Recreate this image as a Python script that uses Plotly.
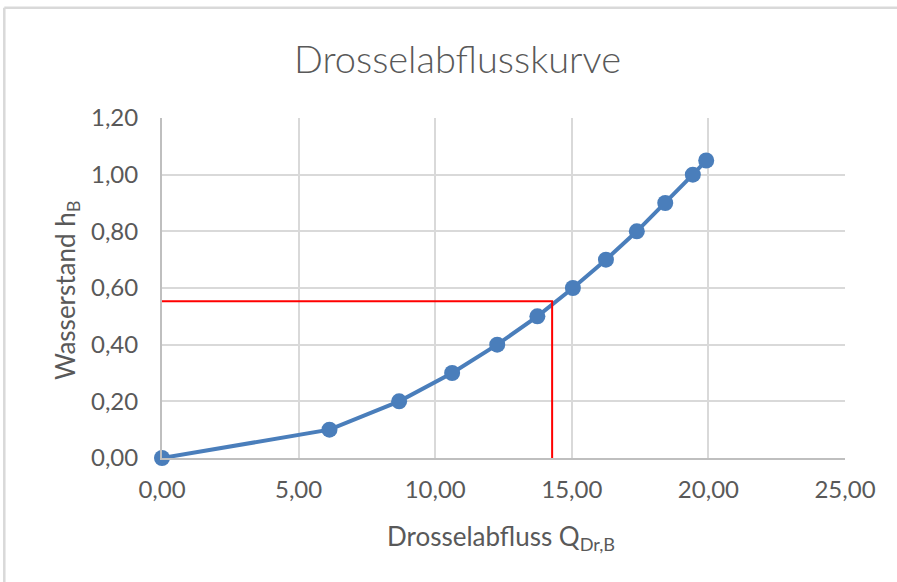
import plotly.graph_objects as go

# Data
abfluss_q = [0.0, 6.13, 8.68, 10.62, 12.27, 13.74, 15.04, 16.25, 17.38, 18.42, 19.43, 19.92]
wasserstand_h = [0.0, 0.10, 0.20, 0.30, 0.40, 0.50, 0.60, 0.70, 0.80, 0.90, 1.00, 1.05]
ablese_q = 14.28
ablese_h = 0.553

FONT = "Lato"
GREY = "#595959"

fig = go.Figure()
fig.add_trace(go.Scatter(
    x=abfluss_q, y=wasserstand_h, mode="lines+markers",
    line=dict(color="#4a7ebb", width=4),
    marker=dict(color="#4a7ebb", size=16),
    showlegend=False, cliponaxis=False,
))
fig.add_trace(go.Scatter(
    x=[0, ablese_q, ablese_q], y=[ablese_h, ablese_h, 0], mode="lines",
    line=dict(color="#ff0000", width=2), showlegend=False,
))

fig.update_layout(
    width=897, height=582,
    margin=dict(l=162, r=52, t=118, b=124),
    paper_bgcolor="white", plot_bgcolor="white",
    separators=",.",
    font=dict(family=FONT, color=GREY),
    xaxis=dict(range=[0, 25], dtick=5, tickformat=".2f", showgrid=True, gridcolor="#d9d9d9", gridwidth=2,
               zeroline=False, showline=True, linecolor="#bfbfbf", linewidth=2,
               ticks="", tickfont=dict(size=24, color=GREY), ticklabelstandoff=9),
    yaxis=dict(range=[0, 1.2], dtick=0.2, tickformat=".2f", showgrid=True, gridcolor="#d9d9d9", gridwidth=2,
               zeroline=False, showline=True, linecolor="#bfbfbf", linewidth=2,
               ticks="", tickfont=dict(size=24, color=GREY), ticklabelstandoff=17),
    annotations=[
        dict(text="Drosselabflusskurve", xref="paper", yref="paper", x=0.4324, y=1.1774,
             xanchor="center", yanchor="middle", showarrow=False,
             font=dict(size=38, color=GREY, family=FONT, weight=300)),
        dict(text="Drosselabfluss Q<sub>Dr,B</sub>", xref="paper", yref="paper", x=0.3269, y=-0.2344,
             xanchor="left", yanchor="middle", showarrow=False,
             font=dict(size=26, color=GREY, family=FONT)),
        dict(text="Wasserstand h<sub>B</sub>", xref="paper", yref="paper", x=-0.1401, y=0.2244,
             xanchor="center", yanchor="bottom", textangle=-90, showarrow=False,
             font=dict(size=26, color=GREY, family=FONT)),
    ],
    shapes=[
        dict(type="line", xref="paper", yref="paper", x0=-0.2309, x1=1.2, y0=1.3244, y1=1.3244,
             line=dict(color="#d9d9d9", width=2.5)),
        dict(type="line", xref="paper", yref="paper", x0=-0.2309, x1=-0.2309, y0=-0.5, y1=1.3244,
             line=dict(color="#d9d9d9", width=2.5)),
    ],
)

fig.write_html("out.html", config={"displayModeBar": False},
               post_script="document.body.style.margin='0';document.body.style.padding='0';")
